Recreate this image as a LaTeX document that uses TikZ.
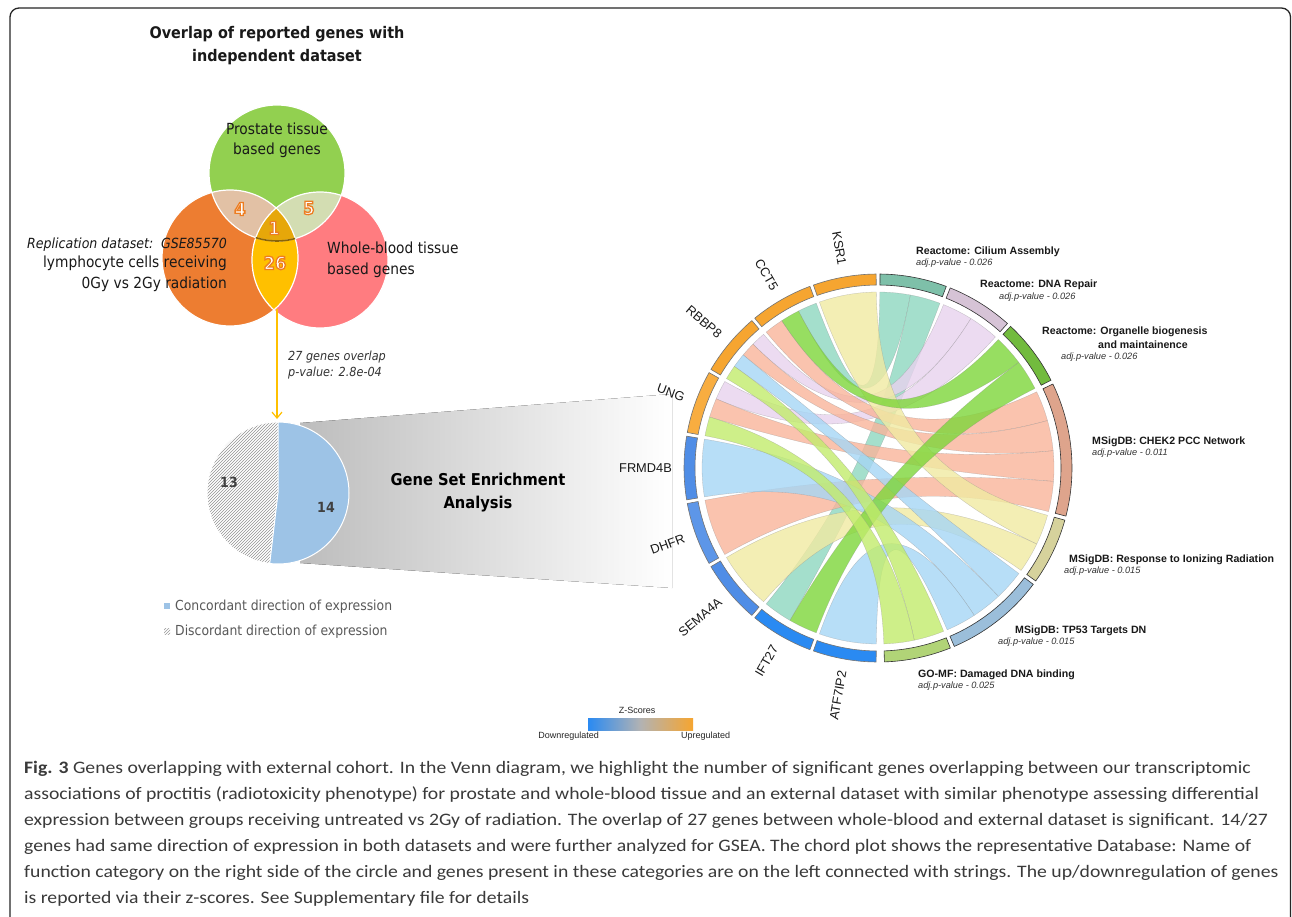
\documentclass[tikz,border=0pt]{standalone}
\usepackage{fontspec}
\setmainfont{Liberation Sans}
\newfontfamily\tahoma[FakeStretch=0.9]{DejaVu Sans}
\newfontfamily\capfont[FakeStretch=1.125]{Carlito}
\usetikzlibrary{patterns,arrows.meta}
\definecolor{vgreen}{HTML}{92D050}
\definecolor{vorange}{HTML}{ED7D31}
\definecolor{vred}{HTML}{FF7C80}
\definecolor{vgold}{HTML}{FFC000}
\definecolor{vgold2}{HTML}{E6A70A}
\definecolor{vtan}{HTML}{E2C1A5}
\definecolor{vpale}{HTML}{D3DDB2}
\definecolor{numor}{HTML}{EE7D22}
\definecolor{pieblue}{HTML}{9DC3E6}
\definecolor{gorange}{HTML}{F6A530}
\definecolor{gorange2}{HTML}{F8AD40}
\definecolor{gblue}{HTML}{4F8DE6}
\definecolor{gblue2}{HTML}{2A8AF2}
\definecolor{rteal}{HTML}{8ED8C0}
\definecolor{ateal}{HTML}{7EC0A9}
\definecolor{rlav}{HTML}{E8D2EE}
\definecolor{alav}{HTML}{D6C3D6}
\definecolor{rgreen}{HTML}{7ED63A}
\definecolor{agreen}{HTML}{72BB3E}
\definecolor{rsalmon}{HTML}{F9B49A}
\definecolor{asalmon}{HTML}{DEA48C}
\definecolor{ryellow}{HTML}{F1EAA2}
\definecolor{ayellow}{HTML}{D6D29C}
\definecolor{rblue}{HTML}{A6D6F5}
\definecolor{ablue}{HTML}{9BBEDA}
\definecolor{rlime}{HTML}{C2EC6C}
\definecolor{alime}{HTML}{B1D477}
\definecolor{captxt}{HTML}{3A3A3A}
\def\Ro{194}
\def\Ri{183}
\def\Rr{176}
\def\Rc{55}
\newcommand\ribbon[5]{\fill[#1, fill opacity=0.8, draw=black!45, draw opacity=0.5, line width=0.3] (#2:\Rr) arc[start angle=#2, end angle=#3, radius=\Rr] .. controls (#3:\Rc) and (#4:\Rc) .. (#4:\Rr) arc[start angle=#4, end angle=#5, radius=\Rr] .. controls (#5:\Rc) and (#2:\Rc) .. (#2:\Rr) -- cycle;}
\newcommand\ringseg[4]{\fill[#3, draw=#4, line width=0.6] (#1:\Ro) arc[start angle=#1, end angle=#2, radius=\Ro] -- (#2:\Ri) arc[start angle=#2, end angle=#1, radius=\Ri] -- cycle;}
\newcommand\vnum[3]{\node[numsty] (#1) at #2 {\color{white}\special{pdf:literal direct 0.93 0.49 0.13 RG 1.3 w 2 Tr}#3\special{pdf:literal direct 0 Tr}};}
\begin{document}
\begin{tikzpicture}[x=1pt,y=1pt,yscale=-1,
  numsty/.style={inner sep=0, font=\tahoma\bfseries\fontsize{18}{17}\selectfont},
  vlab/.style={inner sep=0, font=\tahoma\fontsize{15.3}{18}\selectfont, text=black!90},
  vital/.style={inner sep=0, font=\tahoma\itshape\fontsize{14}{18}\selectfont, text=black!90},
  ttl/.style={inner sep=0, font=\tahoma\bfseries\fontsize{16}{19}\selectfont, text=black!90},
  smit/.style={inner sep=0, font=\tahoma\itshape\fontsize{12.5}{15}\selectfont, text=black!80},
  leg/.style={inner sep=0, font=\tahoma\fontsize{13.8}{15}\selectfont, text=black!65},
  pienum/.style={inner sep=0, font=\tahoma\bfseries\fontsize{14}{16}\selectfont, text=black!75},
  genelab/.style={inner sep=0, font=\fontsize{12.8}{14}\selectfont, text=black!90},
  cattl/.style={inner sep=0, anchor=west, font=\bfseries\fontsize{10.6}{12}\selectfont, text=black!90},
  catp/.style={inner sep=0, anchor=west, font=\itshape\fontsize{9.2}{10}\selectfont, text=black!80},
  zlab/.style={inner sep=0, font=\fontsize{9}{11}\selectfont, text=black!85},
  capl/.style={inner sep=0, anchor=base west, font=\capfont\fontsize{17.5}{20}\selectfont, text=captxt}]
\useasboundingbox (0,0) rectangle (1292,917);
\fill[white] (0,0) rectangle (1292,917);
% frame
\draw[line width=1.3, black!85, rounded corners=9] (10,8) rectangle (1290.5,960);
% title
\node[ttl, anchor=base] (t1) at (277,39) {Overlap of reported genes with};
\node[ttl, anchor=base] (t2) at (277,62) {independent dataset};
% Venn
\fill[vorange] (230,258) circle[radius=68];
\fill[vred] (320,260) circle[radius=68];
\fill[vgreen] (277,173) circle[radius=68];
\begin{scope}
  \clip (230,258) circle[radius=68];
  \fill[vgold] (320,260) circle[radius=68];
\end{scope}
\begin{scope}
  \clip (277,173) circle[radius=68];
  \fill[vtan] (230,258) circle[radius=68];
  \fill[vpale] (320,260) circle[radius=68];
  \clip (230,258) circle[radius=68];
  \fill[vgold2] (320,260) circle[radius=68];
\end{scope}
\draw[white, line width=1.2] (230,258) circle[radius=68];
\draw[white, line width=1.2] (320,260) circle[radius=68];
\draw[white, line width=1.2] (277,173) circle[radius=68];
\begin{scope}
  \clip (230,258) circle[radius=68];
  \clip (320,260) circle[radius=68];
  \draw[color=black!40!vgold2, line width=1.6] (277,173) circle[radius=68];
\end{scope}
\node[vlab, anchor=base] (p1) at (277,135) {Prostate tissue};
\node[vlab, anchor=base] (p2) at (277,155) {based genes};
\node[vlab, anchor=base west] (w1) at (327,254) {Whole-blood tissue};
\node[vlab, anchor=base west] (w2) at (327,274) {based genes};
\node[vital, anchor=base east] (r1) at (227,249) {Replication dataset:\, GSE85570};
\node[vlab, anchor=base east] (r2) at (227,268) {lymphocyte cells receiving};
\node[vlab, anchor=base east] (r3) at (227,288) {0Gy vs 2Gy radiation};
\vnum{n4}{(240,209)}{4}
\vnum{n5}{(309,208)}{5}
\vnum{n1}{(274,228)}{1}
\vnum{n26}{(275,263)}{26}
% arrow
\coordinate (lensbot) at (277,309);
\coordinate (pietop) at (277,419);
\draw[vgold, line width=1.2, -{Straight Barb[length=6pt,width=10pt]}] (lensbot) -- (pietop);
\node[smit, anchor=base west] (o1) at (288,360) {27 genes overlap};
\node[smit, anchor=base west] (o2) at (288,376) {p-value: 2.8e-04};
% funnel
\fill[left color=gray!52, right color=white] (300,423) -- (672,394) -- (672,588) -- (300,563) -- cycle;
% pie
\begin{scope}[shift={(278,493)},yscale=-1]
  \fill[white] (0,0) -- (90:71) arc[start angle=90, end angle=263.3, radius=71] -- cycle;
  \fill[pattern=north east lines, pattern color=gray!85] (0,0) -- (90:71) arc[start angle=90, end angle=263.3, radius=71] -- cycle;
  \fill[pieblue] (0,0) -- (90:71) arc[start angle=90, end angle=-96.7, radius=71] -- cycle;
  \draw[white, line width=1] (263.3:71) -- (0,0) -- (90:71);
  \draw[white, line width=1] (0,0) circle[radius=71];
\end{scope}
\node[pienum] (n13) at (229,482) {13};
\node[pienum] (n14) at (326,507) {14};
\node[inner sep=0, font=\tahoma\bfseries\fontsize{16.3}{21}\selectfont, anchor=base] (g1) at (478,485) {Gene Set Enrichment};
\node[inner sep=0, font=\tahoma\bfseries\fontsize{16.3}{21}\selectfont, anchor=base] (g2) at (478,508) {Analysis};
% legend
\fill[pieblue] (164,603) rectangle (170,609);
\node[leg, anchor=base west] (l1) at (175,610) {Concordant direction of expression};
\fill[pattern=north east lines, pattern color=gray!80] (164,628) rectangle (170,634);
\node[leg, anchor=base west] (l2) at (175,635) {Discordant direction of expression};
% chord diagram
\begin{scope}[shift={(878,468)},yscale=-1]
  \ribbon{rteal}{110.55}{116.85}{79.4}{89.4}
  \ribbon{rteal}{230.55}{240.0}{69.4}{79.4}
  \ribbon{rlav}{130.55}{135.275}{58.15}{68.15}
  \ribbon{rlav}{150.55}{156.85}{48.15}{58.15}
  \ribbon{rsalmon}{123.15}{129.45}{15.65}{25.65}
  \ribbon{rsalmon}{135.275}{140.0}{5.65}{15.65}
  \ribbon{rsalmon}{156.85}{163.15}{-4.35}{5.65}
  \ribbon{rsalmon}{190.55}{209.45}{-14.35}{-4.35}
  \ribbon{ryellow}{90.55}{109.45}{-25.6}{-15.6}
  \ribbon{ryellow}{210.55}{229.45}{-35.6}{-25.6}
  \ribbon{rblue}{140.0}{144.725}{-46.85}{-36.85}
  \ribbon{rblue}{170.55}{189.45}{-56.85}{-46.85}
  \ribbon{rblue}{250.55}{269.45}{-66.85}{-56.85}
  \ribbon{rgreen}{116.85}{123.15}{36.9}{46.9}
  \ribbon{rgreen}{240.0}{249.45}{26.9}{36.9}
  \ribbon{rlime}{144.725}{149.45}{-78.1}{-68.1}
  \ribbon{rlime}{163.15}{169.45}{-88.1}{-78.1}
  % gene arcs
  \ringseg{90.55}{109.45}{gorange}{black!55}
  \ringseg{110.55}{129.45}{gorange}{black!55}
  \ringseg{130.55}{149.45}{gorange}{black!55}
  \ringseg{150.55}{169.45}{gorange2}{black!55}
  \ringseg{170.55}{189.45}{gblue}{black!55}
  \ringseg{190.55}{209.45}{gblue!92!white}{black!55}
  \ringseg{210.55}{229.45}{gblue}{black!55}
  \ringseg{230.55}{249.45}{gblue2}{black!55}
  \ringseg{250.55}{269.45}{gblue2}{black!55}
  % category arcs
  \ringseg{69.4}{89.4}{ateal}{black!80}
  \ringseg{48.15}{68.15}{alav}{black!80}
  \ringseg{26.9}{46.9}{agreen}{black!80}
  \ringseg{-14.35}{25.65}{asalmon}{black!80}
  \ringseg{-35.6}{-15.6}{ayellow}{black!80}
  \ringseg{-66.85}{-36.85}{ablue}{black!80}
  \ringseg{-88.1}{-68.1}{alime}{black!80}
  % gene labels
  \node[genelab, anchor=east, rotate=-80] (KSR1) at (100:206) {KSR1};
  \node[genelab, anchor=east, rotate=-60] (CCT5) at (120:206) {CCT5};
  \node[genelab, anchor=east, rotate=-40] (RBBP8) at (140:206) {RBBP8};
  \node[genelab, anchor=east, rotate=-20] (UNG) at (160:206) {UNG};
  \node[genelab, anchor=east, rotate=0] (FRMD4B) at (180:206) {FRMD4B};
  \node[genelab, anchor=east, rotate=20] (DHFR) at (200:206) {DHFR};
  \node[genelab, anchor=east, rotate=40] (SEMA4A) at (220:206) {SEMA4A};
  \node[genelab, anchor=east, rotate=60] (IFT27) at (240:206) {IFT27};
  \node[genelab, anchor=east, rotate=80] (ATF7IP2) at (260:206) {ATF7IP2};
\end{scope}
% category labels
\node[cattl] (c1) at (916,252) {Reactome: Cilium Assembly};
\node[catp] (c1p) at (916,263.5) {adj.p-value - 0.026};
\node[cattl] (c2) at (980,285) {Reactome: DNA Repair};
\node[catp] (c2p) at (999,297) {adj.p-value - 0.026};
\node[cattl] (c3) at (1042,332) {Reactome: Organelle biogenesis};
\node[cattl] (c3b) at (1098,345) {and maintainence};
\node[catp] (c3p) at (1061,357.5) {adj.p-value - 0.026};
\node[cattl] (c4) at (1092,442) {MSigDB: CHEK2 PCC Network};
\node[catp] (c4p) at (1092,453.5) {adj.p-value - 0.011};
\node[cattl] (c5) at (1069,560) {MSigDB: Response to Ionizing Radiation};
\node[catp] (c5p) at (1064,571.5) {adj.p-value - 0.015};
\node[cattl] (c6) at (1015,631) {MSigDB: TP53 Targets DN};
\node[catp] (c6p) at (998,642.5) {adj.p-value - 0.015};
\node[cattl] (c7) at (918,675) {GO-MF: Damaged DNA binding};
\node[catp] (c7p) at (918,686.5) {adj.p-value - 0.025};
% z-score legend
\node[zlab] (zt) at (637,710) {Z-Scores};
\fill[left color=gblue2, right color=gorange, middle color=black!30!white] (588,718) rectangle (693,730);
\node[zlab, anchor=east] (zd) at (599,736) {Downregulated};
\node[zlab, anchor=west] (zu) at (681,736) {Upregulated};
% caption
\node[capl] (cap1) at (24,773) {\textbf{Fig. 3} Genes overlapping with external cohort. In the Venn diagram, we highlight the number of significant genes overlapping between our transcriptomic};
\node[capl] (cap2) at (24,799) {associations of proctitis (radiotoxicity phenotype) for prostate and whole-blood tissue and an external dataset with similar phenotype assessing differential};
\node[capl] (cap3) at (24,825) {expression between groups receiving untreated vs 2Gy of radiation. The overlap of 27 genes between whole-blood and external dataset is significant. 14/27};
\node[capl] (cap4) at (24,851) {genes had same direction of expression in both datasets and were further analyzed for GSEA. The chord plot shows the representative Database: Name of};
\node[capl] (cap5) at (24,877) {function category on the right side of the circle and genes present in these categories are on the left connected with strings. The up/downregulation of genes};
\node[capl] (cap6) at (24,903) {is reported via their z-scores. See Supplementary file for details};
\end{tikzpicture}
\end{document}
